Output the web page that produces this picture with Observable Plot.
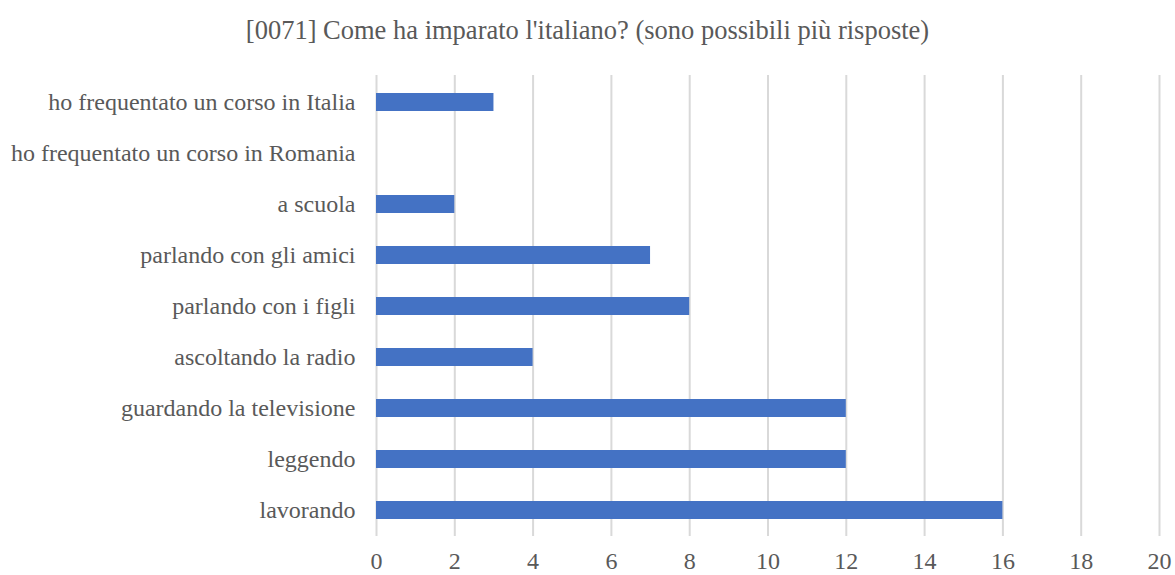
<!DOCTYPE html>
<html><head><meta charset="utf-8">
<script src="https://cdn.jsdelivr.net/npm/d3@7"></script>
<script src="https://cdn.jsdelivr.net/npm/@observablehq/plot@0.6"></script>
<style>
body{margin:0;background:#fff;}
#title{height:60px;line-height:60px;text-align:center;font-family:"Liberation Serif","Times New Roman",serif;font-size:26.5px;color:#595959;}
</style>
</head><body>
<div id="title">[0071] Come ha imparato l'italiano? (sono possibili più risposte)</div>
<div id="chart"></div>
<script>
const categories = [
  "ho frequentato un corso in Italia",
  "ho frequentato un corso in Romania",
  "a scuola",
  "parlando con gli amici",
  "parlando con i figli",
  "ascoltando la radio",
  "guardando la televisione",
  "leggendo",
  "lavorando"
];
const values = [3, 0, 2, 7, 8, 4, 12, 12, 16];
const xTicks = [0, 2, 4, 6, 8, 10, 12, 14, 16, 18, 20];

const data = categories.map((c, i) => ({category: c, value: values[i]}));

const chart = Plot.plot({
  width: 1175,
  height: 515,
  marginTop: 15,
  marginBottom: 39,
  marginLeft: 376,
  marginRight: 16,
  style: {fontFamily: '"Liberation Serif","Times New Roman",serif', fontSize: "24px", color: "#595959", background: "#fff"},
  x: {domain: [0, 20], ticks: xTicks, label: null},
  y: {domain: categories, label: null, paddingInner: 0.65, paddingOuter: 0.325},
  marks: [
    Plot.ruleX(xTicks, {stroke: "#d9d9d9", strokeWidth: 2}),
    Plot.barX(data, {y: "category", x: "value", fill: "#4472C4"}),
    Plot.axisX({ticks: xTicks, tickSize: 0, tickPadding: 15, label: null, fontSize: 24}),
    Plot.axisY({tickSize: 0, tickPadding: 21, label: null, fontSize: 24})
  ]
});
document.getElementById("chart").appendChild(chart);
</script>
</body></html>
